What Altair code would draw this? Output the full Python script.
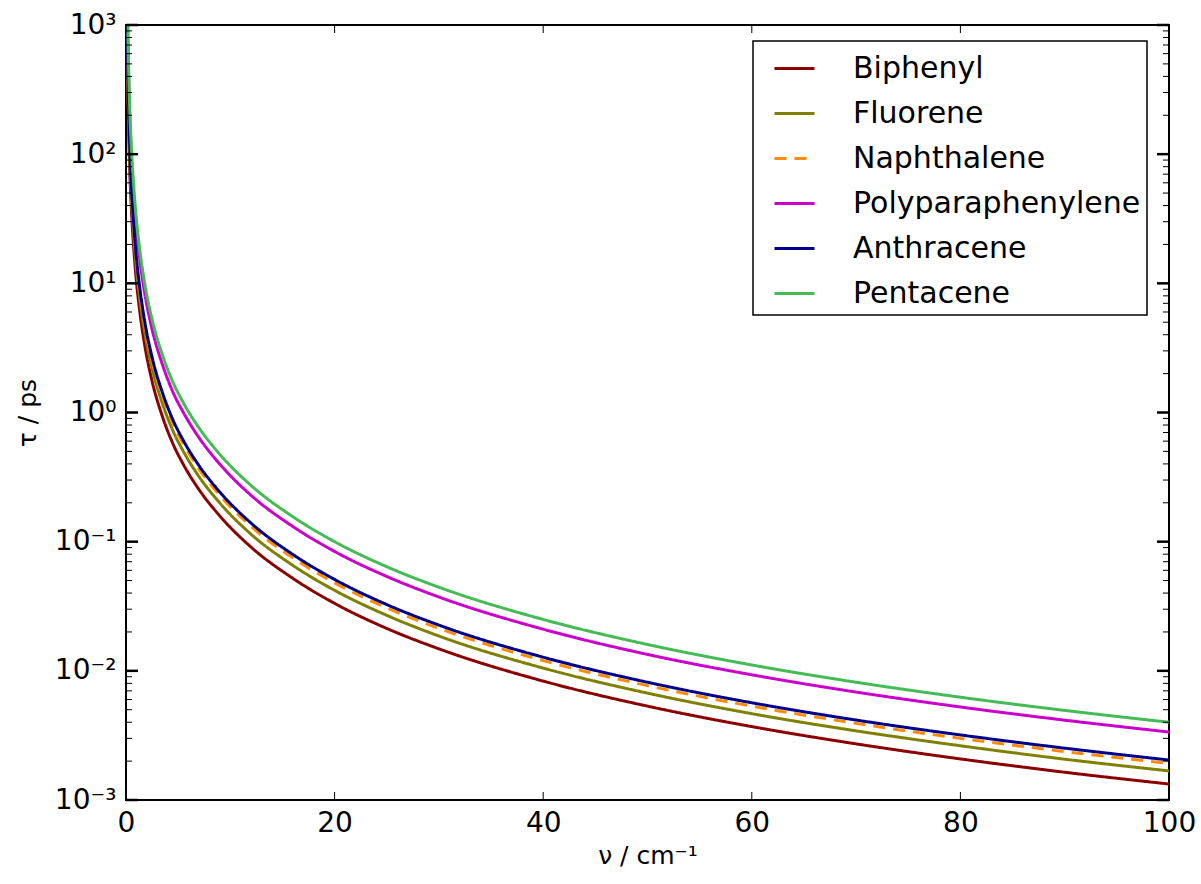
import altair as alt
import pandas as pd

nu = [0.08, 0.15, 0.3, 0.55, 0.75, 1, 1.3, 1.8, 2.5, 3.5, 4.5, 5.5, 7, 9, 12, 16, 20, 25, 30, 40, 50, 60, 70, 80, 90, 100]

biphenyl = [1560, 444, 111, 33.3, 18.3, 10.3, 6.23, 3.30, 1.75, 0.926, 0.573, 0.396, 0.253, 0.158, 0.0906, 0.052, 0.0333, 0.0213, 0.0148, 0.00833, 0.00533, 0.0037, 0.00272, 0.00208, 0.00164, 0.00133]
fluorene = [1970, 560, 140, 42, 23.1, 13.0, 7.85, 4.16, 2.2, 1.17, 0.722, 0.5, 0.319, 0.199, 0.114, 0.0655, 0.042, 0.0269, 0.0186, 0.0105, 0.00672, 0.00466, 0.00343, 0.00263, 0.00207, 0.00168]
naphthalene = [2250, 640, 160, 48, 26.4, 14.9, 8.98, 4.75, 2.52, 1.33, 0.826, 0.571, 0.365, 0.228, 0.131, 0.0749, 0.048, 0.0307, 0.0213, 0.012, 0.00768, 0.00533, 0.00392, 0.003, 0.00237, 0.00192]
polyparaphenylene = [3940, 1120, 280, 84, 46.2, 26.0, 15.7, 8.32, 4.41, 2.34, 1.44, 1.0, 0.638, 0.398, 0.228, 0.131, 0.084, 0.0538, 0.0373, 0.021, 0.0134, 0.00932, 0.00685, 0.00525, 0.00415, 0.00336]
anthracene = [2390, 680, 170, 51, 28.1, 15.8, 9.54, 5.05, 2.68, 1.42, 0.877, 0.607, 0.388, 0.242, 0.139, 0.0796, 0.051, 0.0326, 0.0226, 0.01275, 0.00816, 0.00566, 0.00416, 0.00319, 0.00252, 0.00204]
pentacene = [4690, 1333, 333, 100, 55, 31, 18.7, 9.9, 5.25, 2.78, 1.72, 1.19, 0.76, 0.474, 0.272, 0.156, 0.100, 0.064, 0.0444, 0.025, 0.016, 0.0111, 0.00816, 0.00625, 0.00494, 0.0040]

names = ["Biphenyl", "Fluorene", "Naphthalene", "Polyparaphenylene", "Anthracene", "Pentacene"]
series = [biphenyl, fluorene, naphthalene, polyparaphenylene, anthracene, pentacene]
colors = ["#8b0000", "#808000", "#ff8c00", "#cc00cc", "#00008b", "#44bb55"]
dashes = [[1, 0], [1, 0], [12, 8], [1, 0], [1, 0], [1, 0]]

x_ticks = [0, 20, 40, 60, 80, 100]
y_major = [1e-3, 1e-2, 1e-1, 1e0, 1e1, 1e2, 1e3]
y_minor = [m * d for d in [1e-3, 1e-2, 1e-1, 1e0, 1e1, 1e2] for m in range(2, 10)]

rows = []
for n, s in zip(names, series):
    for i, (a, b) in enumerate(zip(nu, s)):
        rows.append({"nu": a, "tau": b, "name": n, "order": i})
df = pd.DataFrame(rows)

W, H = 1043, 775
FONT = "DejaVu Sans"

xscale = alt.Scale(domain=[0, 100], nice=False, zero=False)
yscale = alt.Scale(type="log", domain=[1e-3, 1e3], nice=False)

label_expr = ("datum.value < 0.005 ? '10⁻³' : datum.value < 0.05 ? '10⁻²' : datum.value < 0.5 ? '10⁻¹' : "
              "datum.value < 5 ? '10⁰' : datum.value < 50 ? '10¹' : datum.value < 500 ? '10²' : '10³'")

ax_x = alt.Axis(values=x_ticks, title="ν / cm⁻¹", ticks=False, grid=False, domain=False,
                labelFontSize=28, labelPadding=9, titleFontSize=25, titlePadding=6,
                labelFont=FONT, titleFont=FONT, titleFontWeight="normal", labelColor="black",
                titleColor="black", labelFlush=False)
ax_y = alt.Axis(values=y_major, labelExpr=label_expr, title="τ / ps", ticks=False, grid=False,
                domain=False, labelFontSize=28, labelPadding=10, titleFontSize=25, titlePadding=14,
                labelFont=FONT, titleFont=FONT, titleFontWeight="normal", labelColor="black",
                titleColor="black", labelFlush=False)

lines = alt.Chart(df).mark_line(strokeWidth=3, clip=True, interpolate="monotone").encode(
    x=alt.X("nu:Q", scale=xscale, axis=ax_x),
    y=alt.Y("tau:Q", scale=yscale, axis=ax_y),
    color=alt.Color("name:N", scale=alt.Scale(domain=names, range=colors), sort=names,
                    legend=alt.Legend(title=None, orient="none", legendX=627, legendY=16)),
    strokeDash=alt.StrokeDash("name:N", scale=alt.Scale(domain=names, range=dashes), sort=names,
                              legend=alt.Legend(title=None, orient="none", legendX=627, legendY=16)),
    order="order:Q",
)

ymaj = pd.DataFrame({"v": y_major})
ymin = pd.DataFrame({"v": y_minor})
xt = pd.DataFrame({"v": x_ticks})

y_t = alt.Y("v:Q", scale=yscale, axis=ax_y)
x_t = alt.X("v:Q", scale=xscale, axis=ax_x)

ticks = [
    alt.Chart(ymaj).mark_rule(color="black", strokeWidth=2.5).encode(y=y_t, x=alt.value(0), x2=alt.value(12)),
    alt.Chart(ymaj).mark_rule(color="black", strokeWidth=2.5).encode(y=y_t, x=alt.value(W - 12), x2=alt.value(W)),
    alt.Chart(ymin).mark_rule(color="black", strokeWidth=1).encode(y=y_t, x=alt.value(0), x2=alt.value(6)),
    alt.Chart(ymin).mark_rule(color="black", strokeWidth=1).encode(y=y_t, x=alt.value(W - 6), x2=alt.value(W)),
    alt.Chart(xt).mark_rule(color="black", strokeWidth=1).encode(x=x_t, y=alt.value(H - 8), y2=alt.value(H)),
    alt.Chart(xt).mark_rule(color="black", strokeWidth=1).encode(x=x_t, y=alt.value(0), y2=alt.value(8)),
]

chart = alt.layer(lines, *ticks).resolve_scale(x="shared", y="shared").properties(
    width=W, height=H,
    background="white",
    autosize=alt.AutoSizeParams(type="none"),
    padding={"left": 126, "top": 25, "right": 32, "bottom": 84},
).configure_view(stroke="black", strokeWidth=2).configure_legend(
    padding=6, strokeColor="black", strokeWidth=1.5, fillColor="white", cornerRadius=0,
    symbolType="stroke", symbolSize=1600, symbolStrokeWidth=3, symbolOffset=14,
    labelFontSize=30, labelFont=FONT, labelColor="black", labelOffset=37,
    rowPadding=8, labelLimit=400,
)

chart.save("out.html", embed_options={"renderer": "svg", "actions": False})
